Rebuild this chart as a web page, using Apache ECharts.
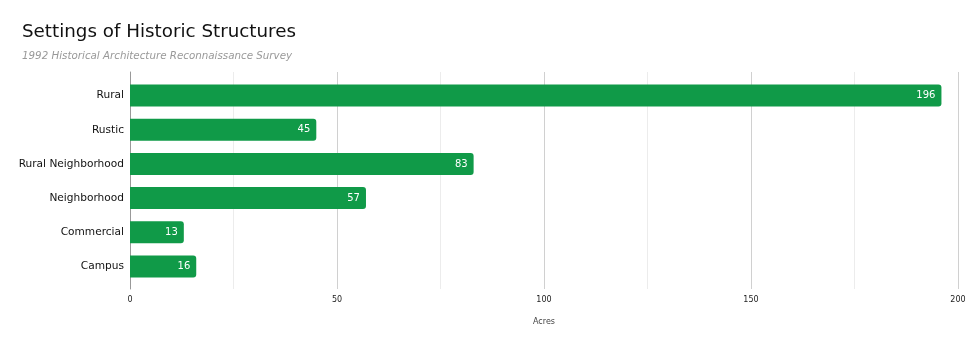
<!DOCTYPE html>
<html><head><meta charset="utf-8">
<script src="https://cdn.jsdelivr.net/npm/echarts@6/dist/echarts.min.js"></script>
<style>html,body{margin:0;padding:0;background:#fff}#c{width:975px;height:343px}</style>
</head><body><div id="c"></div>
<script>
const categories = ["Rural", "Rustic", "Rural Neighborhood", "Neighborhood", "Commercial", "Campus"];
const acres = [196, 45, 83, 57, 13, 16];
const xTicks = [0, 50, 100, 150, 200];

const chart = echarts.init(document.getElementById('c'));
const FONT = 'DejaVu Sans';
chart.setOption({
  animation: false,
  title: [
    {text: 'Settings of Historic Structures', left: 17, top: 18,
     textStyle: {fontFamily: FONT, fontSize: 18.3, fontWeight: 'normal', color: '#111'}},
    {text: '1992 Historical Architecture Reconnaissance Survey', left: 17, top: 46,
     textStyle: {fontFamily: FONT, fontSize: 10.3, fontStyle: 'italic', fontWeight: 'normal', color: '#999'}}
  ],
  grid: [
    {left: 130, right: 17, top: 72, bottom: 54},
    {left: 130, right: 17, top: 78.5, bottom: 59.5}
  ],
  xAxis: [
    {gridIndex: 0, type: 'value', min: xTicks[0], max: xTicks[xTicks.length - 1], interval: 50,
     axisLine: {show: false}, axisTick: {show: false},
     axisLabel: {fontFamily: FONT, fontSize: 8, color: '#222', margin: 7},
     splitLine: {show: true, lineStyle: {color: '#d0d0d0', width: 1}},
     minorTick: {show: false, splitNumber: 2},
     minorSplitLine: {show: true, lineStyle: {color: '#ececec', width: 1}},
     name: 'Acres', nameLocation: 'middle', nameGap: 29,
     nameTextStyle: {fontFamily: FONT, fontSize: 8, color: '#444'}},
    {gridIndex: 1, type: 'value', min: xTicks[0], max: xTicks[xTicks.length - 1], show: false}
  ],
  yAxis: [
    {gridIndex: 0, type: 'value', axisLabel: {show: false}, splitLine: {show: false}, axisTick: {show: false},
     axisLine: {show: true, lineStyle: {color: '#999', width: 1}}},
    {gridIndex: 1, type: 'category', data: categories, inverse: true,
     axisLine: {show: false}, axisTick: {show: false},
     axisLabel: {fontFamily: FONT, fontSize: 10.6, color: '#111', margin: 6}}
  ],
  series: [{
    type: 'bar', xAxisIndex: 1, yAxisIndex: 1, data: acres,
    barWidth: 22,
    itemStyle: {color: '#109a48', borderRadius: [0, 3, 3, 0]},
    label: {show: true, position: 'insideRight', distance: 6, color: '#fff',
            fontFamily: FONT, fontSize: 10}
  }]
});
</script></body></html>
